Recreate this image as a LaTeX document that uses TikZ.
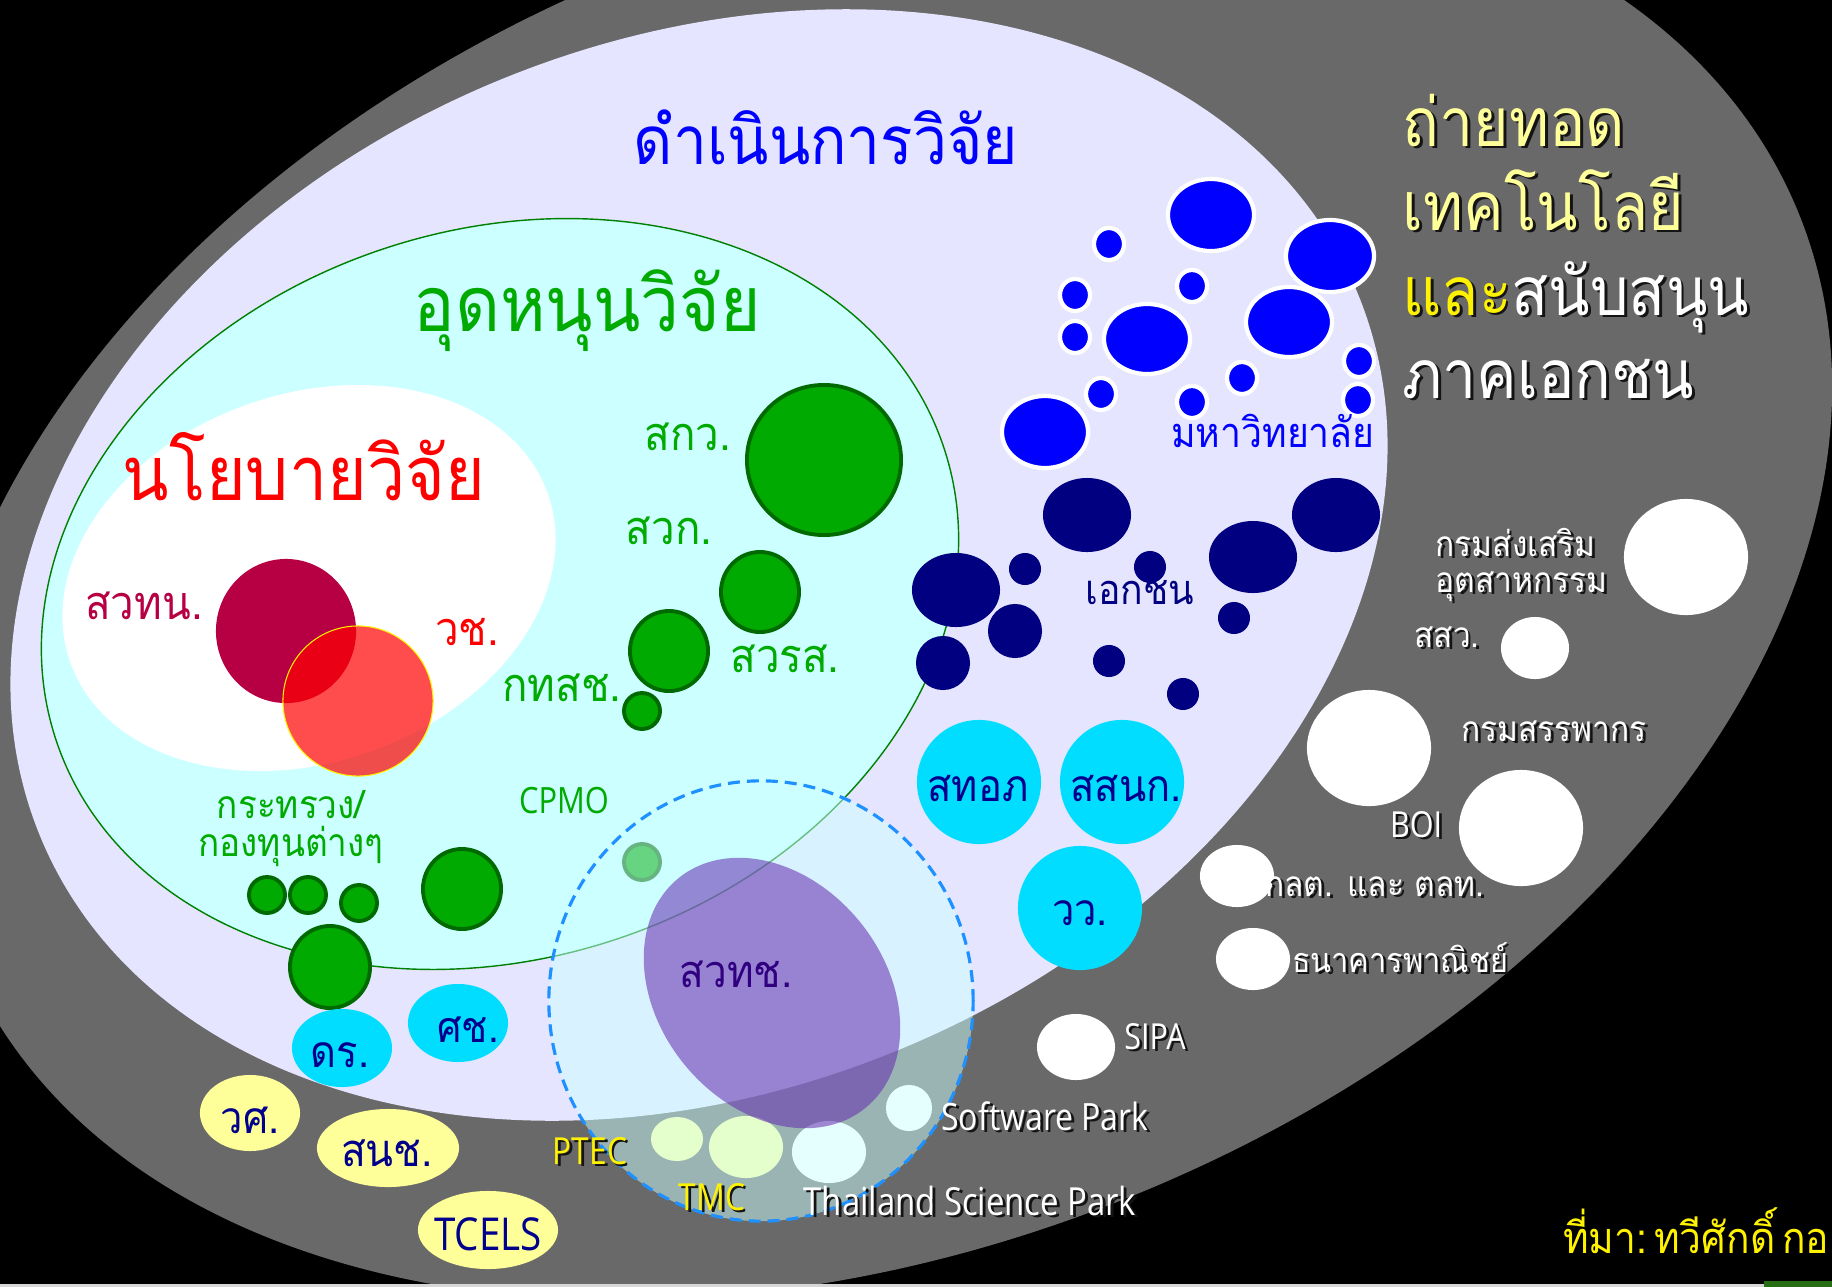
\documentclass[tikz,border=0pt]{standalone}
\usepackage{fontspec}
\setmainfont{Loma}[Script=Thai,FakeStretch=0.9]
\newfontfamily\latinfont{Open Sans}[FakeStretch=0.85]
\usetikzlibrary{shapes.geometric}
\definecolor{bandgray}{RGB}{105,105,105}
\definecolor{lavender}{RGB}{229,229,255}
\definecolor{palecyan}{RGB}{204,255,255}
\definecolor{fundrim}{RGB}{0,128,0}
\definecolor{crimson}{RGB}{183,0,68}
\definecolor{fundgreen}{RGB}{0,170,0}
\definecolor{fundedge}{RGB}{0,105,0}
\definecolor{navy}{RGB}{0,0,128}
\definecolor{agcyan}{RGB}{0,221,255}
\definecolor{agtext}{RGB}{0,0,140}
\definecolor{paleyellow}{RGB}{255,255,153}
\definecolor{dodger}{RGB}{30,144,255}
\definecolor{nstda}{RGB}{100,40,175}
\definecolor{nstdatext}{RGB}{48,0,128}
\definecolor{shade}{RGB}{20,20,20}
\definecolor{rulegray}{RGB}{215,215,215}
\definecolor{cornergreen}{RGB}{40,110,20}
\colorlet{hl}{yellow}
\newcommand{\fsz}[1]{\fontsize{#1}{#1}\selectfont}
\tikzset{
	blob/.style 2 args={ellipse,inner sep=0pt,minimum width=#1*0.02cm,minimum height=#2*0.02cm},
	gdot/.style 2 args={blob={#1}{#2},fill=fundgreen,draw=fundedge,line width=1.1pt},
	bdot/.style 2 args={blob={#1}{#2},fill=blue,draw=white,line width=1.2pt},
	ndot/.style 2 args={blob={#1}{#2},fill=navy},
	cdot/.style 2 args={blob={#1}{#2},fill=agcyan},
	ydot/.style 2 args={blob={#1}{#2},fill=paleyellow},
	wdot/.style 2 args={blob={#1}{#2},fill=white},
	lbl/.style={inner sep=0pt,anchor=base},
	glbl/.style={lbl,text=fundgreen,font=\fsz{13.3}},
	clbl/.style={lbl,text=agtext,font=\fsz{12.6}},
	wlbl/.style={lbl,text=white,font=\fsz{10}},
	elbl/.style={lbl,text=white,font=\latinfont\fsz{10.7}},
	title/.style={lbl,anchor=base west,text=white,font=\fsz{19.2}}
}
\newcommand{\shlabel}[4]{%
	\node[#2,text=shade,xshift=.8pt,yshift=-.8pt] (#1-s) at (#3) {\colorlet{hl}{shade}#4};
	\node[#2] (#1) at (#3) {#4};}

\begin{document}
\begin{tikzpicture}[x=0.01cm,y=-0.01cm]
	\useasboundingbox (0,0) rectangle (1832,1287);
	\clip (0,0) rectangle (1832,1287);
	\fill[black] (0,0) rectangle (1832,1287);

	% nested regions
	\node[blob={989}{661},fill=bandgray,rotate=21.9] (support) at (881,584) {};
	\node[blob={712}{524},fill=lavender,rotate=22.4] (research) at (699,565) {};
	\node[blob={467}{364},fill=palecyan,draw=fundrim,line width=.4pt,rotate=18] (funding) at (500,594) {};
	\node[blob={253}{184},fill=white,rotate=19.4] (policy) at (309,578) {};

	\node[blob={70}{72},fill=crimson] (stn) at (286,631) {};
	\node[blob={75}{75},fill=red,fill opacity=.7,draw=yellow,line width=.3pt] (nrct) at (358,701) {};

	% funding agencies
	\node[gdot={77}{75}] (trf) at (824,460) {};
	\node[gdot={39}{40}] (ard) at (760,592) {};
	\node[gdot={39}{40}] (hsri) at (669,651) {};
	\node[gdot={18}{18}] (tsc) at (642,711) {};
	\node[gdot={18}{18}] (cpmo) at (642,862) {};
	\node[gdot={18}{18}] (min1) at (267,895) {};
	\node[gdot={18}{18}] (min2) at (308,895) {};
	\node[gdot={18}{18}] (min3) at (359,903) {};
	\node[gdot={39}{40}] (min4) at (462,889) {};
	\node[gdot={40}{41}] (min5) at (330,967) {};

	% universities
	\node[bdot={43}{36}] (u1) at (1211,215) {};
	\node[bdot={44}{36}] (u2) at (1330,256) {};
	\node[bdot={43}{35}] (u3) at (1147,339) {};
	\node[bdot={43}{35}] (u4) at (1289,322) {};
	\node[bdot={43}{36}] (u5) at (1045,432) {};
	\node[bdot={15}{16}] (u6) at (1109,244) {};
	\node[bdot={15}{16}] (u7) at (1075,295) {};
	\node[bdot={15}{16}] (u8) at (1075,337) {};
	\node[bdot={15}{16}] (u9) at (1192,286) {};
	\node[bdot={15}{16}] (u10) at (1359,361) {};
	\node[bdot={15}{16}] (u11) at (1242,378) {};
	\node[bdot={15}{16}] (u12) at (1101,394) {};
	\node[bdot={15}{16}] (u13) at (1192,402) {};
	\node[bdot={15}{16}] (u14) at (1358,400) {};

	% private sector
	\node[ndot={44}{37}] (p1) at (956,590) {};
	\node[ndot={44}{37}] (p2) at (1087,515) {};
	\node[ndot={44}{36}] (p3) at (1253,557) {};
	\node[ndot={44}{37}] (p4) at (1336,515) {};
	\node[ndot={27}{27}] (p5) at (1015,631) {};
	\node[ndot={27}{27}] (p6) at (943,663) {};
	\node[ndot={16}{16}] (p7) at (1025,569) {};
	\node[ndot={16}{16}] (p8) at (1150,567) {};
	\node[ndot={16}{16}] (p9) at (1234,618) {};
	\node[ndot={16}{16}] (p10) at (1109,661) {};
	\node[ndot={16}{16}] (p11) at (1183,694) {};

	% agencies
	\node[cdot={62}{62}] (gistda) at (979,782) {};
	\node[cdot={62}{62}] (haii) at (1122,782) {};
	\node[cdot={62}{62}] (tistr) at (1080,908) {};
	\node[cdot={50}{39}] (astro) at (342,1048) {};
	\node[cdot={50}{39}] (ecc) at (458,1023) {};
	\node[ydot={50}{38}] (dss) at (250,1113) {};
	\node[ydot={71}{39}] (nia) at (388,1148) {};
	\node[ydot={70}{39}] (tcels) at (488,1230) {};

	% support
	\node[wdot={62}{58}] (dip) at (1686,557) {};
	\node[wdot={34}{31}] (osmep) at (1535,648) {};
	\node[wdot={62}{58}] (rd) at (1369,748) {};
	\node[wdot={62}{58}] (boi) at (1521,828) {};
	\node[wdot={37}{31}] (sec) at (1237,876) {};
	\node[wdot={37}{31}] (bank) at (1253,959) {};
	\node[wdot={39}{33}] (sipa) at (1076,1047) {};

	% science park
	\node[ydot={26}{22}] (ptec) at (677,1139) {};
	\node[ydot={37}{31}] (tmc) at (746,1147) {};
	\node[wdot={37}{31}] (tsp) at (829,1152) {};
	\node[wdot={23}{23}] (swp) at (909,1108) {};
	\node[blob={212}{220},fill=palecyan,fill opacity=.5,draw=dodger,line width=.9pt,dash pattern=on 3.4pt off 2pt] (park) at (761,1001) {};
	\node[blob={148}{113},fill=nstda,fill opacity=.55,rotate=-50.8] (nstdaarea) at (772,993) {};

	% labels
	\node[lbl,text=blue,font=\fsz{19.1}] (lresearch) at (826,164) {ดำเนินการวิจัย};
	\node[lbl,text=fundgreen,font=\fsz{21.9}] (lfunding) at (587,331) {อุดหนุนวิจัย};
	\node[lbl,text=red,font=\fsz{21.5}] (lpolicy) at (304,500) {นโยบายวิจัย};
	\node[lbl,text=crimson,font=\fsz{13.3}] (lstn) at (144,619) {สวทน.};
	\node[lbl,text=red,font=\fsz{13.3}] (lnrct) at (467,645) {วช.};
	\node[glbl] (ltrf) at (688,450) {สกว.};
	\node[glbl] (lard) at (669,544) {สวก.};
	\node[glbl] (lhsri) at (785,672) {สวรส.};
	\node[glbl] (ltsc) at (562,701) {กทสช.};
	\node[glbl,font=\fontsize{11.1}{10.8}\selectfont,align=center] (lmin) at (291,856) {กระทรวง/\\กองทุนต่างๆ};
	\node[lbl,text=fundgreen,font=\latinfont\fsz{10.3}] (lcpmo) at (564,813) {CPMO};
	\node[lbl,text=blue,font=\fsz{11.8}] (luni) at (1273,447) {มหาวิทยาลัย};
	\node[lbl,text=navy,font=\fsz{11.8}] (lpriv) at (1140,604) {เอกชน};
	\node[clbl] (lgistda) at (978,801) {สทอภ};
	\node[clbl] (lhaii) at (1126,801) {สสนก.};
	\node[clbl] (ltistr) at (1080,925) {วว.};
	\node[clbl] (lastro) at (340,1067) {ดร.};
	\node[clbl,font=\fsz{12.2}] (lecc) at (468,1042) {ศช.};
	\node[clbl] (ldss) at (250,1133) {วศ.};
	\node[clbl,font=\fsz{12.9}] (lnia) at (387,1166) {สนช.};
	\node[clbl,font=\latinfont\fsz{12.9}] (ltcels) at (488,1250) {TCELS};
	\node[lbl,text=nstdatext,font=\fsz{12.8}] (lnstda) at (736,987) {สวทช.};

	\shlabel{lptec}{elbl,text=yellow,font=\latinfont\fsz{10.6}}{590,1164}{PTEC}
	\shlabel{ltmc}{elbl,text=yellow,font=\latinfont\fsz{10.6}}{712,1210}{TMC}
	\shlabel{ltsp}{elbl,font=\latinfont\fsz{11}}{970,1215}{Thailand Science Park}
	\shlabel{lswp}{elbl}{1045,1130}{Software Park}
	\shlabel{lsipa}{elbl,font=\latinfont\fsz{10.2}}{1155,1049}{SIPA}
	\shlabel{lbank}{wlbl,font=\fsz{9.7}}{1400,972}{ธนาคารพาณิชย์}
	\shlabel{lsec}{wlbl}{1375,896}{กลต. และ ตลท.}
	\shlabel{lboi}{elbl,font=\latinfont\fsz{10.2}}{1416,837}{BOI}
	\shlabel{lrd}{wlbl}{1554,741}{กรมสรรพากร}
	\shlabel{losmep}{wlbl}{1447,647}{สสว.}
	\shlabel{ldip}{wlbl,font=\fontsize{10}{10.2}\selectfont,anchor=base west,align=left}{1435,592}{กรมส่งเสริม\\อุตสาหกรรม}

	\shlabel{ltitle1}{title,text=paleyellow}{1402,146}{ถ่ายทอด}
	\shlabel{ltitle2}{title,text=paleyellow}{1402,230}{เทคโนโลยี}
	\shlabel{ltitle3}{title}{1402,315}{\textcolor{hl}{และ}สนับสนุน}
	\shlabel{ltitle4}{title}{1402,398}{ภาคเอกชน}

	\node[lbl,anchor=base east,text=yellow,font=\fsz{12.3}] (lsource) at (1830,1253) {ที่มา:\hspace{2pt}ทวีศักดิ์\hspace{2pt}กอ};

	% slide edge
	\fill[rulegray] (0,1284) rectangle (1764,1287);
	\fill[cornergreen] (1764,1281) rectangle (1832,1287);
\end{tikzpicture}
\end{document}
